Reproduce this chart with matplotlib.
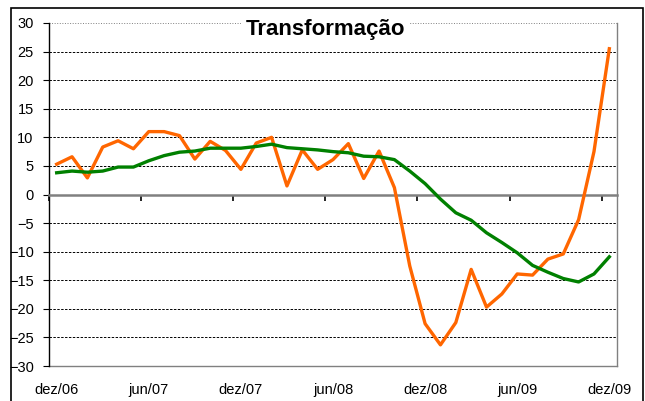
import matplotlib
matplotlib.use("Agg")
import matplotlib.pyplot as plt
import matplotlib.patches as patches
import numpy as np

plt.rcParams['font.family'] = ['Liberation Sans', 'DejaVu Sans']

# monthly, dez/06 .. dez/09
months = ["dez/06", "jan/07", "fev/07", "mar/07", "abr/07", "mai/07", "jun/07", "jul/07",
          "ago/07", "set/07", "out/07", "nov/07", "dez/07", "jan/08", "fev/08", "mar/08",
          "abr/08", "mai/08", "jun/08", "jul/08", "ago/08", "set/08", "out/08", "nov/08",
          "dez/08", "jan/09", "fev/09", "mar/09", "abr/09", "mai/09", "jun/09", "jul/09",
          "ago/09", "set/09", "out/09", "nov/09", "dez/09"]

monthly = [5.3, 6.6, 2.9, 8.3, 9.4, 8.0, 11.0, 11.0, 10.3, 6.2, 9.3, 7.7,
           4.4, 9.0, 10.0, 1.5, 7.8, 4.4, 6.1, 8.9, 2.8, 7.6, 1.2, -12.5,
           -22.6, -26.3, -22.4, -13.1, -19.7, -17.4, -13.9, -14.1, -11.3, -10.4, -4.4, 7.5,
           25.5]

trend = [3.8, 4.1, 3.9, 4.1, 4.8, 4.8, 5.9, 6.8, 7.4, 7.6, 8.1, 8.1,
         8.1, 8.4, 8.8, 8.2, 8.0, 7.8, 7.5, 7.3, 6.7, 6.6, 6.1, 4.1,
         1.9, -0.8, -3.2, -4.5, -6.7, -8.4, -10.2, -12.4, -13.6, -14.7, -15.3, -13.9,
         -10.9]

yticks = list(range(-30, 31, 5))
label_step = 6

x = np.arange(len(months))

fig = plt.figure(figsize=(6.45, 4.01), dpi=100)
ax = fig.add_axes([49 / 645, 1 - 366 / 401, (617 - 49) / 645, (366 - 23) / 401])

# chart border
fig.patches.append(patches.Rectangle((11 / 645, -0.05), 632 / 645, 1.05 - 8 / 401,
                                     transform=fig.transFigure, fill=False,
                                     edgecolor='black', linewidth=1.2))

ax.plot(x, monthly, color='#ff6600', linewidth=2.4, zorder=3)
ax.plot(x, trend, color='#008000', linewidth=2.4, zorder=4)

ax.set_xlim(-0.5, len(months) - 0.5)
ax.set_ylim(yticks[0], yticks[-1])
ax.set_yticks(yticks)
ax.tick_params(axis='y', direction='out', length=4, width=0.8, pad=7, labelsize=10.5,
               color='black')

# category axis on the zero line, ticks between categories
ax.spines['bottom'].set_position(('data', 0))
ax.spines['bottom'].set_color('#808080')
ax.spines['bottom'].set_linewidth(1.8)
ax.set_xticks(np.arange(-0.5, len(months), label_step))
ax.tick_params(axis='x', direction='out', length=4, width=1.2, color='black', labelbottom=False)

ax.spines['top'].set_visible(False)
ax.spines['right'].set_color('#808080')
ax.spines['right'].set_linewidth(1.0)
ax.spines['left'].set_linewidth(1.0)

# labels at the bottom of the plot area
sec = ax.secondary_xaxis(0.0)
sec.set_xticks(x[::label_step])
sec.set_xticklabels(months[::label_step])
sec.tick_params(length=0, pad=12, labelsize=10.5)
sec.spines['bottom'].set_color('#808080')
sec.spines['bottom'].set_linewidth(1.0)

ax.grid(axis='y', color='black', linestyle=(0, (2.5, 1.5)), linewidth=0.7)
ax.set_axisbelow(True)
gl = ax.yaxis.get_gridlines()
gl[-1].set_color('#808080')
gl[-1].set_linestyle(':')

fig.text(325 / 645, 1 - 29 / 401, "Transformação", ha='center', va='center',
         fontsize=16, fontweight='bold',
         bbox=dict(facecolor='white', edgecolor='none', pad=3))

fig.savefig("out.png", dpi=100)
